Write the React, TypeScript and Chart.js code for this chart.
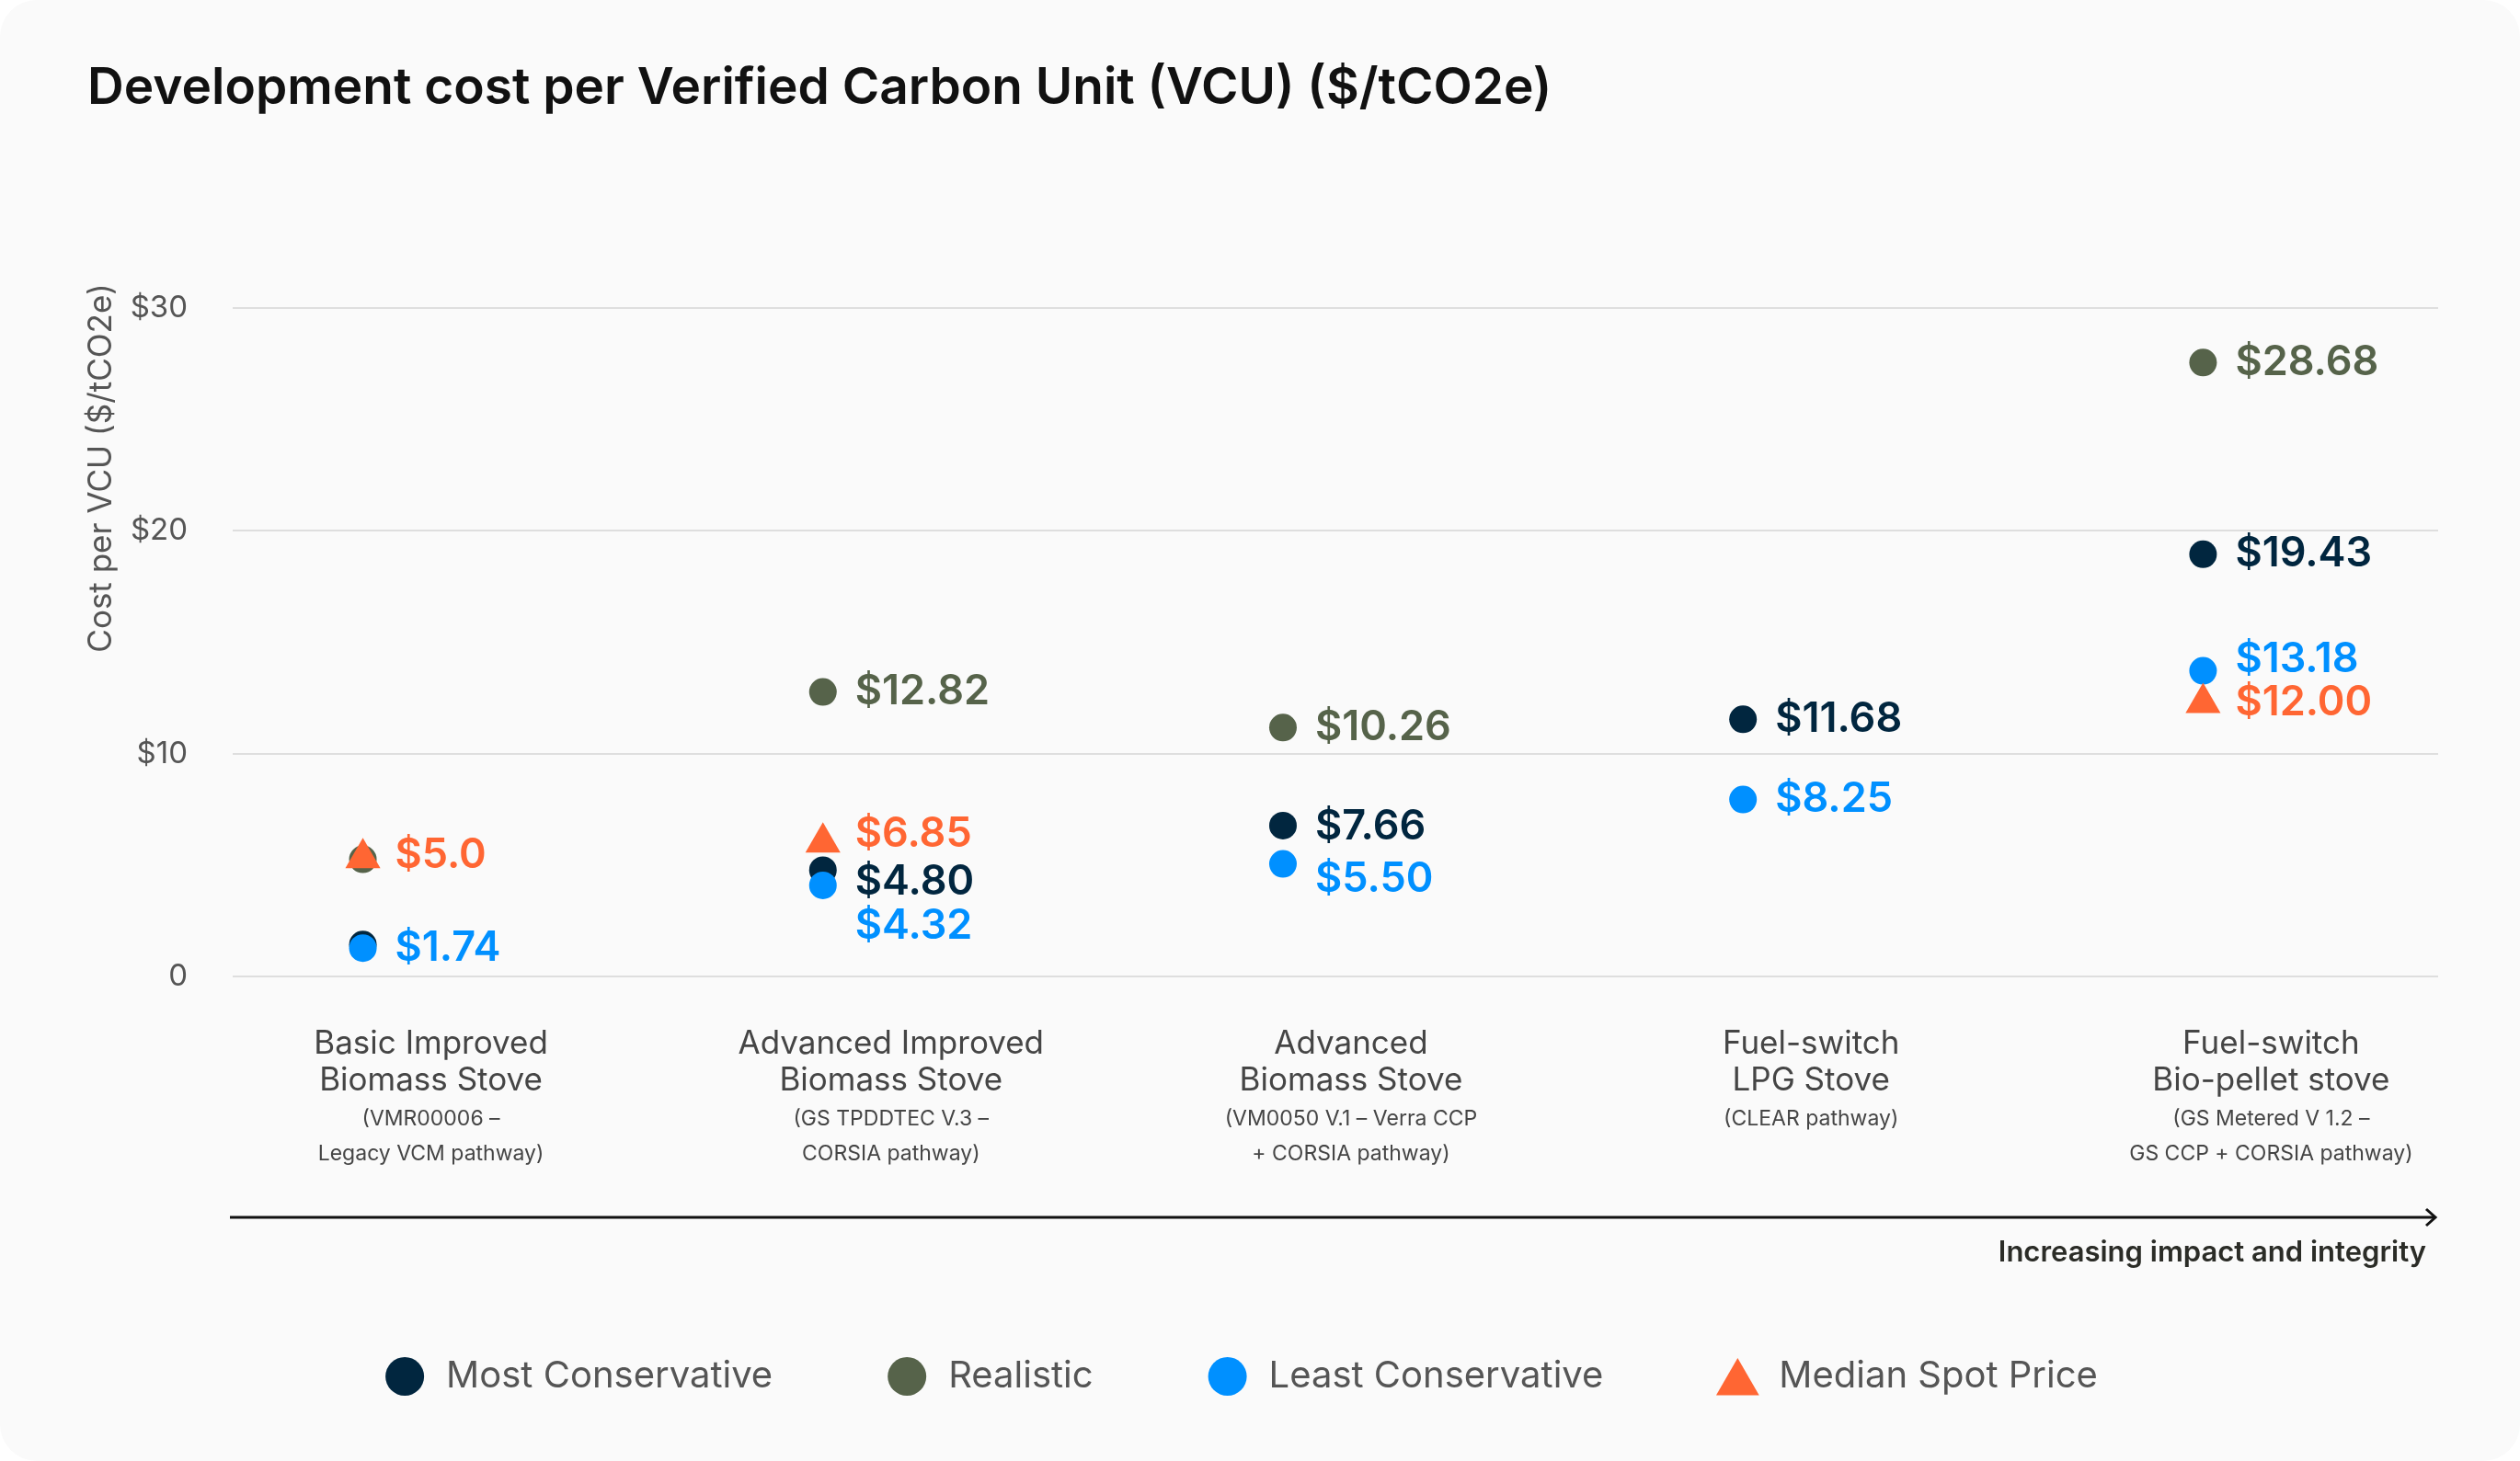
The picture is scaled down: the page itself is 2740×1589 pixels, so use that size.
import { useEffect, useRef } from "react";
import { Chart, registerables, type ChartConfiguration, type Plugin } from "chart.js";

Chart.register(...registerables);

const FONT = "Inter, 'Noto Sans', sans-serif";

const categoryTitles = [
  ["Basic Improved", "Biomass Stove"],
  ["Advanced Improved", "Biomass Stove"],
  ["Advanced", "Biomass Stove"],
  ["Fuel-switch", "LPG Stove"],
  ["Fuel-switch", "Bio-pellet stove"],
];
const categoryNotes = [
  ["(VMR00006 –", "Legacy VCM pathway)"],
  ["(GS TPDDTEC V.3 –", "CORSIA pathway)"],
  ["(VM0050 V.1 – Verra CCP", "+ CORSIA pathway)"],
  ["(CLEAR pathway)"],
  ["(GS Metered V 1.2 –", "GS CCP + CORSIA pathway)"],
];

const seriesNames = ["Most Conservative", "Realistic", "Least Conservative", "Median Spot Price"];

// values
const mostConservative = [1.43, 4.77, 6.77, 11.54, 18.95];
const realistic = [5.26, 12.77, 11.17, null, 27.55];
const leastConservative = [1.27, 4.09, 5.05, 7.94, 13.72];
const medianSpotPrice = [5.31, 6.01, null, null, 12.28];

// printed value labels
const mostConservativeLabels = [null, "$4.80", "$7.66", "$11.68", "$19.43"];
const realisticLabels = [null, "$12.82", "$10.26", null, "$28.68"];
const leastConservativeLabels = ["$1.74", "$4.32", "$5.50", "$8.25", "$13.18"];
const medianSpotPriceLabels = ["$5.0", "$6.85", null, null, "$12.00"];

const yTicks = [0, 10, 20, 30];
const yTickLabels = ["0", "$10", "$20", "$30"];

const chartTitle = "Development cost per Verified Carbon Unit (VCU) ($/tCO2e)";
const yAxisTitle = "Cost per VCU ($/tCO2e)";
const arrowCaption = "Increasing impact and integrity";

const colors = ["#01263f", "#56634a", "#0090ff", "#ff6633"];
const labelShift = [
  [0, 13, 2, 0, 0],
  [0, 0, 0, 0, 0],
  [0, 45, 17, 0, -12],
  [-3, -9, 0, 0, 0],
];
const seriesValues = [mostConservative, realistic, leastConservative, medianSpotPrice];
const seriesLabels = [mostConservativeLabels, realisticLabels, leastConservativeLabels, medianSpotPriceLabels];

function toPoints(values: (number | null)[]) {
  return values
    .map((v, i) => (v == null ? null : { x: i, y: v }))
    .filter((p): p is { x: number; y: number } => p !== null);
}

function drawTriangle(ctx: CanvasRenderingContext2D, x: number, y: number, r: number) {
  ctx.beginPath();
  ctx.moveTo(x, y - r);
  ctx.lineTo(x + r * Math.sin((2 * Math.PI) / 3), y - r * Math.cos((2 * Math.PI) / 3));
  ctx.lineTo(x + r * Math.sin((4 * Math.PI) / 3), y - r * Math.cos((4 * Math.PI) / 3));
  ctx.closePath();
  ctx.fill();
}

const extrasPlugin: Plugin<"scatter"> = {
  id: "extras",
  afterDatasetsDraw(chart) {
    const ctx = chart.ctx;
    ctx.save();
    ctx.font = `600 45px ${FONT}`;
    ctx.textAlign = "left";
    ctx.textBaseline = "middle";
    chart.data.datasets.forEach((ds, di) => {
      const meta = chart.getDatasetMeta(di);
      meta.data.forEach((el, j) => {
        const raw = ds.data[j] as { x: number; y: number };
        const text = seriesLabels[di][raw.x];
        if (!text) return;
        ctx.fillStyle = colors[di];
        ctx.fillText(text, el.x + 35, el.y + labelShift[di][raw.x]);
      });
    });
    ctx.restore();
  },
  afterDraw(chart) {
    const ctx = chart.ctx;
    const xScale = chart.scales.x;
    ctx.save();

    // title
    ctx.fillStyle = "#111111";
    ctx.font = `600 55px ${FONT}`;
    ctx.textAlign = "left";
    ctx.textBaseline = "alphabetic";
    ctx.fillText(chartTitle, 95, 113);

    // y axis title
    ctx.save();
    ctx.translate(110, 509);
    ctx.rotate(-Math.PI / 2);
    ctx.fillStyle = "#555555";
    ctx.font = `400 35px ${FONT}`;
    ctx.textAlign = "center";
    ctx.textBaseline = "middle";
    ctx.fillText(yAxisTitle, 0, 0);
    ctx.restore();

    // category labels
    ctx.textAlign = "center";
    ctx.textBaseline = "middle";
    ctx.fillStyle = "#454545";
    categoryTitles.forEach((lines, i) => {
      const x = xScale.getPixelForValue(i) + 74;
      ctx.font = `400 35px ${FONT}`;
      lines.forEach((line, k) => ctx.fillText(line, x, 1135 + k * 40));
      ctx.font = `400 23px ${FONT}`;
      categoryNotes[i].forEach((line, k) => ctx.fillText(line, x, 1217 + k * 38));
    });

    // arrow
    ctx.strokeStyle = "#111111";
    ctx.lineWidth = 3;
    ctx.beginPath();
    ctx.moveTo(250, 1324);
    ctx.lineTo(2647, 1324);
    ctx.stroke();
    ctx.beginPath();
    ctx.moveTo(2638, 1315);
    ctx.lineTo(2648, 1324);
    ctx.lineTo(2638, 1333);
    ctx.stroke();

    ctx.fillStyle = "#2b2c27";
    ctx.font = `600 31px ${FONT}`;
    ctx.textAlign = "right";
    ctx.textBaseline = "middle";
    ctx.fillText(arrowCaption, 2638, 1363);

    // legend
    ctx.font = `400 40px ${FONT}`;
    ctx.textAlign = "left";
    const marker = 42;
    const gapText = 24;
    const gapItem = 125;
    const widths = seriesNames.map((n) => marker + gapText + ctx.measureText(n).width);
    const total = widths.reduce((a, b) => a + b, 0) + gapItem * (widths.length - 1);
    let cursor = 1350 - total / 2;
    const ly = 1497;
    seriesNames.forEach((name, i) => {
      const ds = chart.data.datasets[i] as { pointStyle?: string };
      ctx.fillStyle = colors[i];
      if (ds.pointStyle === "triangle") {
        drawTriangle(ctx, cursor + marker / 2, ly + 7, 27);
      } else {
        ctx.beginPath();
        ctx.arc(cursor + marker / 2, ly, marker / 2, 0, Math.PI * 2);
        ctx.fill();
      }
      ctx.fillStyle = "#555555";
      ctx.fillText(name, cursor + marker + gapText, ly);
      cursor += widths[i] + gapItem;
    });

    ctx.restore();
  },
};

const drawOrder = [2, 3, 1, 0];

export default function App() {
  const canvasRef = useRef<HTMLCanvasElement>(null);

  useEffect(() => {
    document.body.style.margin = "0";
    document.body.style.background = "#ffffff";
    if (!canvasRef.current) return;

    const config: ChartConfiguration<"scatter"> = {
      type: "scatter",
      data: {
        datasets: seriesNames.map((name, i) => ({
          label: name,
          data: toPoints(seriesValues[i]),
          backgroundColor: colors[i],
          borderColor: colors[i],
          pointBorderWidth: 0,
          pointStyle: i === 3 ? "triangle" : "circle",
          pointRadius: i === 3 ? 22 : 15,
          pointHoverRadius: i === 3 ? 22 : 15,
          order: drawOrder[i],
        })),
      },
      options: {
        responsive: false,
        animation: false,
        events: [],
        layout: { padding: { left: 0, top: 335, right: 89, bottom: 527 } },
        plugins: {
          legend: { display: false },
          tooltip: { enabled: false },
          title: { display: false },
        },
        scales: {
          x: {
            type: "linear",
            min: -0.283,
            max: 4.511,
            display: false,
          },
          y: {
            min: 0,
            max: 30,
            afterFit(scale) {
              scale.width = 253;
            },
            border: { display: false },
            grid: { color: "#dedede", lineWidth: 2, drawTicks: false },
            ticks: {
              stepSize: 10,
              padding: 49,
              color: "#555555",
              font: { family: FONT, size: 33, weight: 400 },
              callback(value) {
                const idx = yTicks.indexOf(Number(value));
                return idx >= 0 ? yTickLabels[idx] : "";
              },
            },
          },
        },
      },
      plugins: [extrasPlugin],
    };

    const chart = new Chart(canvasRef.current, config);
    return () => {
      chart.destroy();
    };
  }, []);

  return (
    <div
      style={{
        width: 2740,
        height: 1589,
        background: "#fafafa",
        borderRadius: 40,
        overflow: "hidden",
      }}
    >
      <canvas ref={canvasRef} width={2740} height={1589} style={{ display: "block" }} />
    </div>
  );
}
